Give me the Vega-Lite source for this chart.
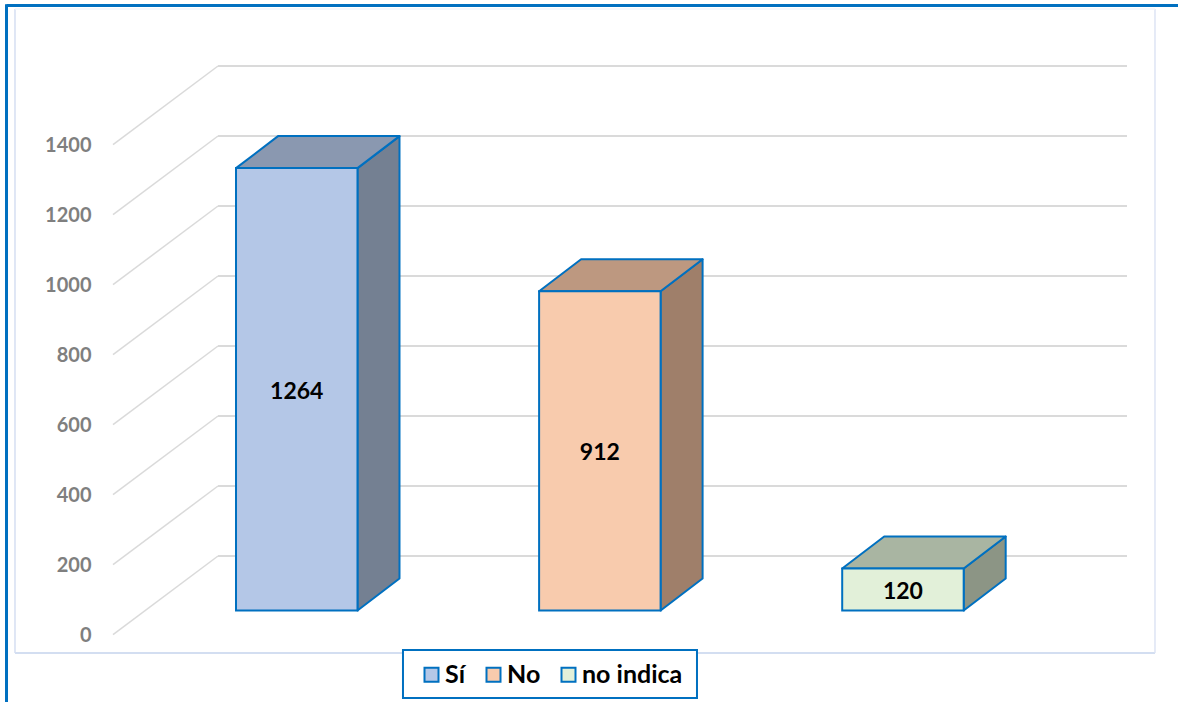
{
"$schema":"https://vega.github.io/schema/vega-lite/v6.json",
"width":1180,"height":704,
"autosize":{"type":"fit","contains":"padding"},
"padding":0,
"background":"white",
"config":{"view":{"stroke":null},"font":"Lato"},
"datasets":{
 "bars":[{"respuesta":"Sí","orden":0,"cantidad":1264},{"respuesta":"No","orden":1,"cantidad":912},{"respuesta":"no indica","orden":2,"cantidad":120}],
 "ticks":[{"tick":0},{"tick":200},{"tick":400},{"tick":600},{"tick":800},{"tick":1000},{"tick":1200},{"tick":1400}],
 "one":[{"marco":1}]
},
"encoding":{
 "x":{"type":"quantitative","scale":{"domain":[-0.97906,2.9075],"nice":false,"zero":false},"axis":null},
 "y":{"type":"quantitative","scale":{"domain":[-261.4,1744.3],"nice":false,"zero":false},"axis":null}
},
"layer":[
{"data":{"name":"one"},"transform":[{"calculate":"-0.9576","as":"a"},{"calculate":"2.9075","as":"b"},{"calculate":"1728.6","as":"c"}],
 "mark":{"type":"rule","color":"#0070C0","strokeWidth":3},
 "encoding":{"x":{"field":"a"},"x2":{"field":"b"},"y":{"field":"c"}}},
{"data":{"name":"one"},"transform":[{"calculate":"-0.9576","as":"a"},{"calculate":"1732","as":"c"},{"calculate":"-261.4","as":"d"}],
 "mark":{"type":"rule","color":"#0070C0","strokeWidth":3},
 "encoding":{"x":{"field":"a"},"y":{"field":"c"},"y2":{"field":"d"}}},
{"data":{"name":"one"},"transform":[{"calculate":"-0.9296","as":"a"},{"calculate":"2.8316","as":"b"},{"calculate":"-121.4","as":"c"}],
 "mark":{"type":"rule","color":"#C5D3EC","strokeWidth":1.5},
 "encoding":{"x":{"field":"a"},"x2":{"field":"b"},"y":{"field":"c"}}},
{"data":{"name":"one"},"transform":[{"calculate":"-0.9296","as":"a"},{"calculate":"1718.6","as":"c"},{"calculate":"-121.4","as":"d"}],
 "mark":{"type":"rule","color":"#D5DFF2","strokeWidth":1.5},
 "encoding":{"x":{"field":"a"},"y":{"field":"c"},"y2":{"field":"d"}}},
{"data":{"name":"one"},"transform":[{"calculate":"2.8316","as":"a"},{"calculate":"1718.6","as":"c"},{"calculate":"-121.4","as":"d"}],
 "mark":{"type":"rule","color":"#DDE4F4","strokeWidth":1.5},
 "encoding":{"x":{"field":"a"},"y":{"field":"c"},"y2":{"field":"d"}}},
{"data":{"name":"one"},"transform":[{"calculate":"-0.9296","as":"a"},{"calculate":"2.8316","as":"b"},{"calculate":"1718.6","as":"c"}],
 "mark":{"type":"rule","color":"#F1F4FB","strokeWidth":1.5},
 "encoding":{"x":{"field":"a"},"x2":{"field":"b"},"y":{"field":"c"}}},
{"data":{"name":"ticks"},"transform":[{"calculate":"datum.tick+155.7","as":"atras"},{"calculate":"-0.2598","as":"a"},{"calculate":"2.7392","as":"b"}],
 "mark":{"type":"rule","color":"#DADADA","strokeWidth":2},
 "encoding":{"x":{"field":"a"},"x2":{"field":"b"},"y":{"field":"atras"}}},
{"data":{"name":"ticks"},"transform":[{"calculate":"datum.tick+155.7","as":"atras"},{"calculate":"datum.tick-69","as":"frente"},{"calculate":"-0.2598","as":"a"},{"calculate":"-0.6062","as":"b"}],
 "mark":{"type":"rule","color":"#DADADA","strokeWidth":1.5},
 "encoding":{"x":{"field":"a"},"x2":{"field":"b"},"y":{"field":"atras"},"y2":{"field":"frente"}}},
{"data":{"name":"ticks"},"transform":[{"calculate":"datum.tick-74","as":"frente"},{"calculate":"-0.6772","as":"a"}],
 "mark":{"type":"text","align":"right","baseline":"middle","font":"Lato","fontWeight":"bold","fontSize":20,"color":"#7F7F7F"},
 "encoding":{"x":{"field":"a"},"y":{"field":"frente"},"text":{"field":"tick","type":"quantitative"}}},
{"data":{"name":"bars"},
 "transform":[{"calculate":"datum.orden+0.2004","as":"frontal"},{"calculate":"datum.orden+0.2004+0.1386","as":"fondo"},{"fold":["frontal","fondo"],"as":["esquina","px"]},{"calculate":"datum.esquina=='fondo'?91.4:0","as":"base"},{"calculate":"datum.cantidad+datum.base","as":"techo"}],
 "mark":{"type":"area","orient":"vertical","stroke":"#0070C0","strokeWidth":2,"strokeJoin":"round","opacity":1},
 "encoding":{"x":{"field":"px"},"y":{"field":"base"},"y2":{"field":"techo"},
  "color":{"field":"respuesta","type":"nominal","legend":null,"scale":{"domain":["Sí","No","no indica"],"range":["#748092","#9F7F6A","#8C9585"]}}}},
{"data":{"name":"bars"},
 "transform":[{"calculate":"datum.orden-0.2004","as":"izq0"},{"calculate":"datum.orden+0.2004","as":"der0"},{"calculate":"datum.cantidad","as":"frente"},{"calculate":"datum.cantidad+91.4","as":"atras"},{"fold":["frente","atras"],"as":["borde","py"]},{"calculate":"datum.borde=='atras'?datum.izq0+0.1386:datum.izq0","as":"izq"},{"calculate":"datum.borde=='atras'?datum.der0+0.1386:datum.der0","as":"der"}],
 "mark":{"type":"area","orient":"horizontal","stroke":"#0070C0","strokeWidth":2,"strokeJoin":"round","opacity":1},
 "encoding":{"y":{"field":"py"},"x":{"field":"izq"},"x2":{"field":"der"},
  "color":{"field":"respuesta","type":"nominal","legend":null,"scale":{"domain":["Sí","No","no indica"],"range":["#8A98B0","#BD9880","#A9B5A2"]}}}},
{"data":{"name":"one"},"transform":[{"calculate":"0.3505","as":"a"},{"calculate":"1.3205","as":"b"},{"calculate":"-112.9","as":"c"},{"calculate":"-250","as":"d"}],
 "mark":{"type":"rect","fill":"white","stroke":"#0070C0","strokeWidth":2},
 "encoding":{"x":{"field":"a"},"x2":{"field":"b"},"y":{"field":"c"},"y2":{"field":"d"}}},
{"data":{"name":"bars"},
 "transform":[{"calculate":"datum.orden-0.2004","as":"izq"},{"calculate":"datum.orden+0.2004","as":"der"},{"calculate":"0","as":"cero"}],
 "mark":{"type":"rect","stroke":"#0070C0","strokeWidth":2,"opacity":1},
 "encoding":{"x":{"field":"izq"},"x2":{"field":"der"},"y":{"field":"cero"},"y2":{"field":"cantidad"},
  "color":{"field":"respuesta","type":"nominal","scale":{"domain":["Sí","No","no indica"],"range":["#B4C7E7","#F8CBAD","#E2F0D9"]},
   "legend":{"orient":"none","legendX":419,"legendY":662,"direction":"horizontal","title":null,"padding":0,"zindex":1,"symbolType":"square","symbolSize":196,"symbolStrokeColor":"#0070C0","symbolStrokeWidth":2,"symbolOpacity":1,"labelFont":"Lato","labelFontWeight":"bold","labelFontSize":25,"labelColor":"#000000","labelOffset":1,"columnPadding":15}}}},
{"data":{"name":"bars"},
 "transform":[{"calculate":"datum.cantidad/2-7","as":"medio"}],
 "mark":{"type":"text","align":"center","baseline":"middle","font":"Lato","fontWeight":"bold","fontSize":23,"color":"#000000"},
 "encoding":{"x":{"field":"orden"},"y":{"field":"medio"},"text":{"field":"cantidad","type":"quantitative"}}}
],
"resolve":{"scale":{"color":"independent"}}
}
